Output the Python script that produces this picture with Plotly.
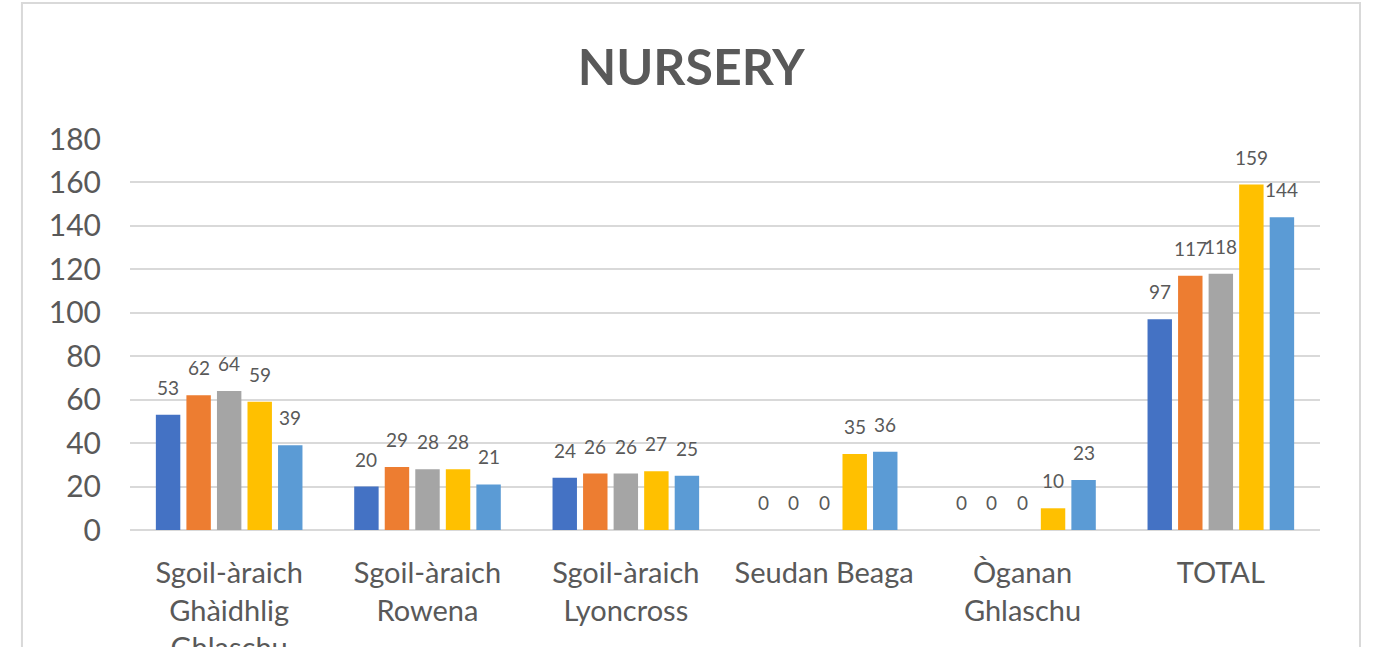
import plotly.graph_objects as go

categories = ["Sgoil-àraich<br>Ghàidhlig<br>Ghlaschu", "Sgoil-àraich<br>Rowena",
              "Sgoil-àraich<br>Lyoncross", "Seudan Beaga", "Òganan<br>Ghlaschu", "TOTAL"]
series_names = ["Series1", "Series2", "Series3", "Series4", "Series5"]
s1 = [53, 20, 24, 0, 0, 97]
s2 = [62, 29, 26, 0, 0, 117]
s3 = [64, 28, 26, 0, 0, 118]
s4 = [59, 28, 27, 35, 10, 159]
s5 = [39, 21, 25, 36, 23, 144]
colors = ["#4472C4", "#ED7D31", "#A5A5A5", "#FFC000", "#5B9BD5"]
y_ticks = [0, 20, 40, 60, 80, 100, 120, 140, 160, 180]

FONT = "Lato, Liberation Sans, sans-serif"
W, H = 1374, 647
ML, MR, MT, MB = 130, 54, 139, 117
BARGAP, NSER = 0.23, 5
slot_px = (W - ML - MR) / len(categories) * (1 - BARGAP) / NSER

fig = go.Figure()
annotations = []
all_series = [s1, s2, s3, s4, s5]
for i, (name, vals, c) in enumerate(zip(series_names, all_series, colors)):
    fig.add_trace(go.Bar(
        x=categories, y=vals, name=name, marker=dict(color=c, line=dict(width=0)),
    ))
    for cat, v in zip(categories, vals):
        annotations.append(dict(
            x=cat, y=v, xref="x", yref="y", text=str(v), showarrow=False,
            xanchor="center", yanchor="bottom", yshift=14, xshift=(i - (NSER - 1) / 2) * slot_px,
            font=dict(family=FONT, size=19, color="#595959"),
        ))

fig.update_layout(
    width=W, height=H,
    margin=dict(l=ML, r=MR, t=MT, b=MB, autoexpand=False),
    paper_bgcolor="white", plot_bgcolor="white",
    barmode="group", bargap=BARGAP, bargroupgap=0.2,
    showlegend=False,
    title=dict(text="<b>NURSERY</b>", x=0.503, xanchor="center", y=0.895, yanchor="middle",
               font=dict(family=FONT, size=50, color="#595959")),
    xaxis=dict(showgrid=False, showline=False, ticks="", automargin=False,
               tickfont=dict(family=FONT, size=29, color="#595959"), ticklabelstandoff=23),
    yaxis=dict(range=[0, 180], tickvals=y_ticks, showgrid=True, gridcolor="#D9D9D9", gridwidth=1.5,
               zeroline=True, zerolinecolor="#D9D9D9", zerolinewidth=1.5, showline=False, automargin=False,
               tickfont=dict(family=FONT, size=30, color="#595959"), ticklabelstandoff=28),
    annotations=annotations,
    shapes=[dict(type="rect", xref="paper", yref="paper", x0=-0.0908, x1=1.0336, y0=-0.4, y1=1.3478,
                 line=dict(color="#D9D9D9", width=2), fillcolor="rgba(0,0,0,0)", layer="below")],
)

fig.write_html("out.html", config={"displayModeBar": False},
               post_script="document.body.style.margin='0';")
